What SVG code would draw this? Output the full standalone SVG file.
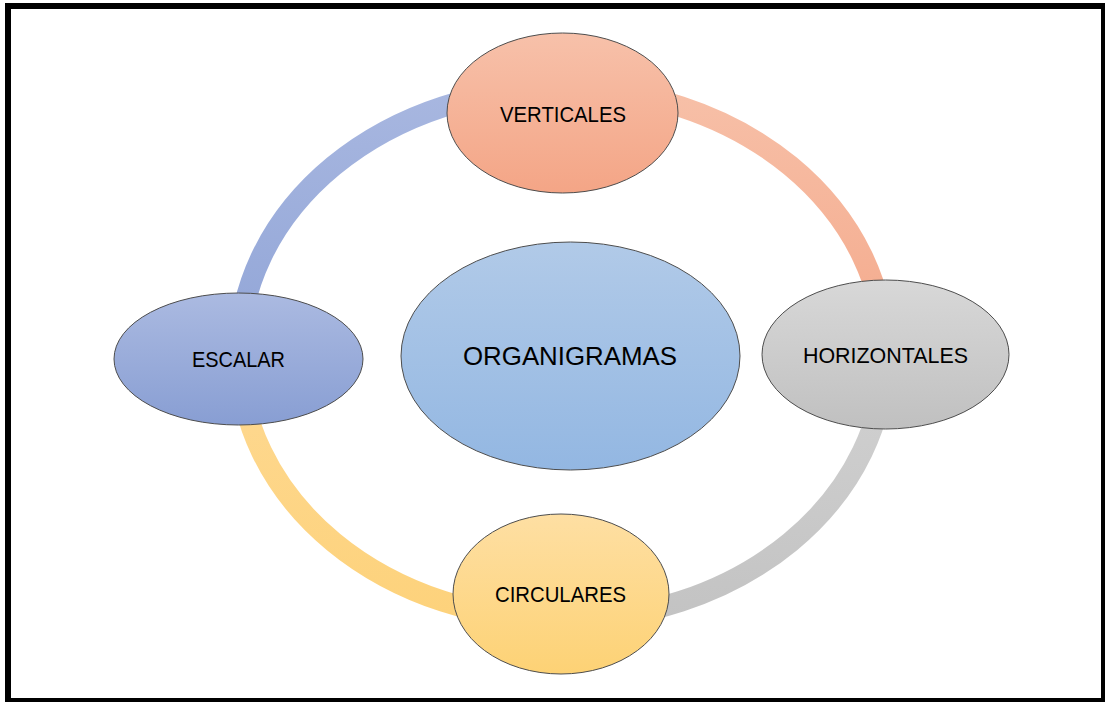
<svg xmlns="http://www.w3.org/2000/svg" width="1105" height="702" viewBox="0 0 1105 702">
  <defs>
    <linearGradient id="gSalmon" x1="0" y1="0" x2="0" y2="1">
      <stop offset="0" stop-color="#f7c1aa"/>
      <stop offset="1" stop-color="#f4a586"/>
    </linearGradient>
    <linearGradient id="gBlue" x1="0" y1="0" x2="0" y2="1">
      <stop offset="0" stop-color="#abbae1"/>
      <stop offset="1" stop-color="#889ed3"/>
    </linearGradient>
    <linearGradient id="gGrey" x1="0" y1="0" x2="0" y2="1">
      <stop offset="0" stop-color="#d8d8d8"/>
      <stop offset="1" stop-color="#c0c0c0"/>
    </linearGradient>
    <linearGradient id="gYellow" x1="0" y1="0" x2="0" y2="1">
      <stop offset="0" stop-color="#fedfa3"/>
      <stop offset="1" stop-color="#fdd275"/>
    </linearGradient>
    <linearGradient id="gCenter" x1="0" y1="0" x2="0" y2="1">
      <stop offset="0" stop-color="#b1cae8"/>
      <stop offset="1" stop-color="#93b7e2"/>
    </linearGradient>
    <linearGradient id="aSalmon" gradientUnits="userSpaceOnUse" x1="0" y1="88" x2="0" y2="354">
      <stop offset="0" stop-color="#f7c0a8"/>
      <stop offset="1" stop-color="#f4a98b"/>
    </linearGradient>
    <linearGradient id="aGrey" gradientUnits="userSpaceOnUse" x1="0" y1="354" x2="0" y2="620">
      <stop offset="0" stop-color="#d2d2d2"/>
      <stop offset="1" stop-color="#c3c3c3"/>
    </linearGradient>
    <linearGradient id="aYellow" gradientUnits="userSpaceOnUse" x1="0" y1="354" x2="0" y2="620">
      <stop offset="0" stop-color="#fed993"/>
      <stop offset="1" stop-color="#fdd27b"/>
    </linearGradient>
    <linearGradient id="aBlue" gradientUnits="userSpaceOnUse" x1="0" y1="88" x2="0" y2="354">
      <stop offset="0" stop-color="#a8b7e0"/>
      <stop offset="1" stop-color="#91a5d7"/>
    </linearGradient>
  </defs>
  <style>
    .node { stroke: #4d4d4d; stroke-width: 1; }
    .ring { fill: none; stroke-width: 21; stroke-linecap: butt; }
    .label { font-family: "Liberation Sans", Arial, sans-serif; font-size: 22.5px; fill: #000; text-anchor: middle; }
    .title { font-size: 25px; }
  </style>

  <rect x="0" y="0" width="1105" height="702" fill="#ffffff"/>
  <rect x="8" y="6" width="1096" height="695" fill="#ffffff" stroke="#000000" stroke-width="6"/>

  <!-- ring segments between the outer nodes -->
  <g id="connectors">
    <path class="ring" stroke="url(#aSalmon)" d="M562,88 A323,266 0 0 1 885,354"/>
    <path class="ring" stroke="url(#aGrey)" d="M885,354 A323,266 0 0 1 562,620"/>
    <path class="ring" stroke="url(#aYellow)" d="M562,620 A323,266 0 0 1 239,354"/>
    <path class="ring" stroke="url(#aBlue)" d="M239,354 A323,266 0 0 1 562,88"/>
  </g>

  <g id="organigramas">
    <ellipse class="node" cx="570.5" cy="356" rx="169.5" ry="114" fill="url(#gCenter)"/>
    <text class="label title" x="570" y="365" textLength="214" lengthAdjust="spacingAndGlyphs">ORGANIGRAMAS</text>
  </g>

  <g id="verticales">
    <ellipse class="node" cx="562.5" cy="113" rx="115.5" ry="80" fill="url(#gSalmon)"/>
    <text class="label" x="563" y="121.5" textLength="126" lengthAdjust="spacingAndGlyphs">VERTICALES</text>
  </g>

  <g id="horizontales">
    <ellipse class="node" cx="885.5" cy="354.5" rx="123.5" ry="74.5" fill="url(#gGrey)"/>
    <text class="label" x="885.5" y="363" textLength="165" lengthAdjust="spacingAndGlyphs">HORIZONTALES</text>
  </g>

  <g id="circulares">
    <ellipse class="node" cx="561" cy="594" rx="108" ry="80" fill="url(#gYellow)"/>
    <text class="label" x="560.5" y="602" textLength="131" lengthAdjust="spacingAndGlyphs">CIRCULARES</text>
  </g>

  <g id="escalar">
    <ellipse class="node" cx="238.5" cy="359" rx="124.5" ry="66" fill="url(#gBlue)"/>
    <text class="label" x="238.5" y="367" textLength="93" lengthAdjust="spacingAndGlyphs">ESCALAR</text>
  </g>
</svg>
